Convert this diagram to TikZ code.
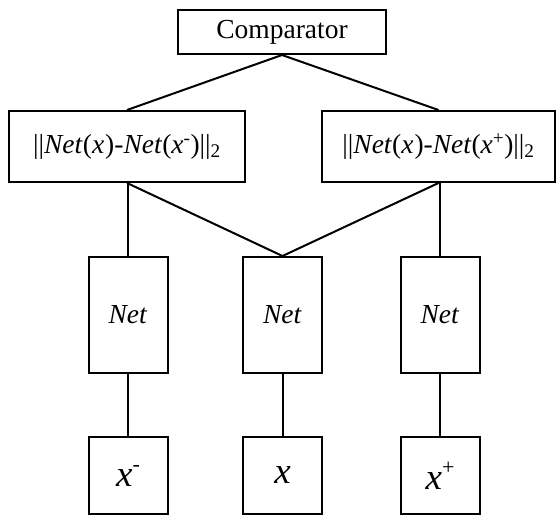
\documentclass[tikz,border=0pt]{standalone}
\usepackage{fontspec}
\setmainfont{Liberation Serif}
\newcommand{\bigsup}[1]{\raisebox{15pt}{\fontsize{22}{22}\selectfont #1}}
\begin{document}
\begin{tikzpicture}[x=1pt,y=-1pt,
  box/.style={draw=black,line width=2pt,inner sep=0pt,minimum width=#1},
  lbl/.style={font=\fontsize{27.5}{30}\selectfont},
  big/.style={font=\fontsize{37}{40}\selectfont},
  wire/.style={line width=2pt}]
\useasboundingbox (0,0) rectangle (556,516);
\node[box=208pt,minimum height=44pt,lbl] (cmp) at (282,32) {Comparator};
\node[box=236pt,minimum height=71pt,lbl] (ln) at (127,146.5) {||\textit{Net}(\textit{x}\kern1pt)-\textit{Net}(\textit{x}\textsuperscript{-})||\textsubscript{2}};
\node[box=233pt,minimum height=71pt,lbl] (rn) at (438.5,146.5) {||\textit{Net}(\textit{x}\kern1pt)-\textit{Net}(\textit{x}\textsuperscript{+})||\textsubscript{2}};
\node[box=79pt,minimum height=116pt,lbl] (netL) at (128,315) {\textit{Net}};
\node[box=79pt,minimum height=116pt,lbl] (netM) at (282.5,315) {\textit{Net}};
\node[box=79pt,minimum height=116pt,lbl] (netR) at (440,315) {\textit{Net}};
\node[box=79pt,minimum height=77pt,big] (xL) at (128,475.5) {\textit{x}\bigsup{-}};
\node[box=79pt,minimum height=77pt,big] (xM) at (282.5,475.5) {\textit{x}};
\node[box=79pt,minimum height=77pt,big] (xR) at (440,475.5) {\textit{x}\bigsup{+}};
\draw[wire] (cmp.south) -- (ln.north);
\draw[wire] (cmp.south) -- (rn.north);
\draw[wire] (netL.north |- ln.south) -- (netL.north);
\draw[wire] (netR.north |- rn.south) -- (netR.north);
\draw[wire] (ln.south) -- (netM.north);
\draw[wire] (rn.south) -- (netM.north);
\draw[wire] (netL.south) -- (xL.north);
\draw[wire] (netM.south) -- (xM.north);
\draw[wire] (netR.south) -- (xR.north);
\end{tikzpicture}
\end{document}
